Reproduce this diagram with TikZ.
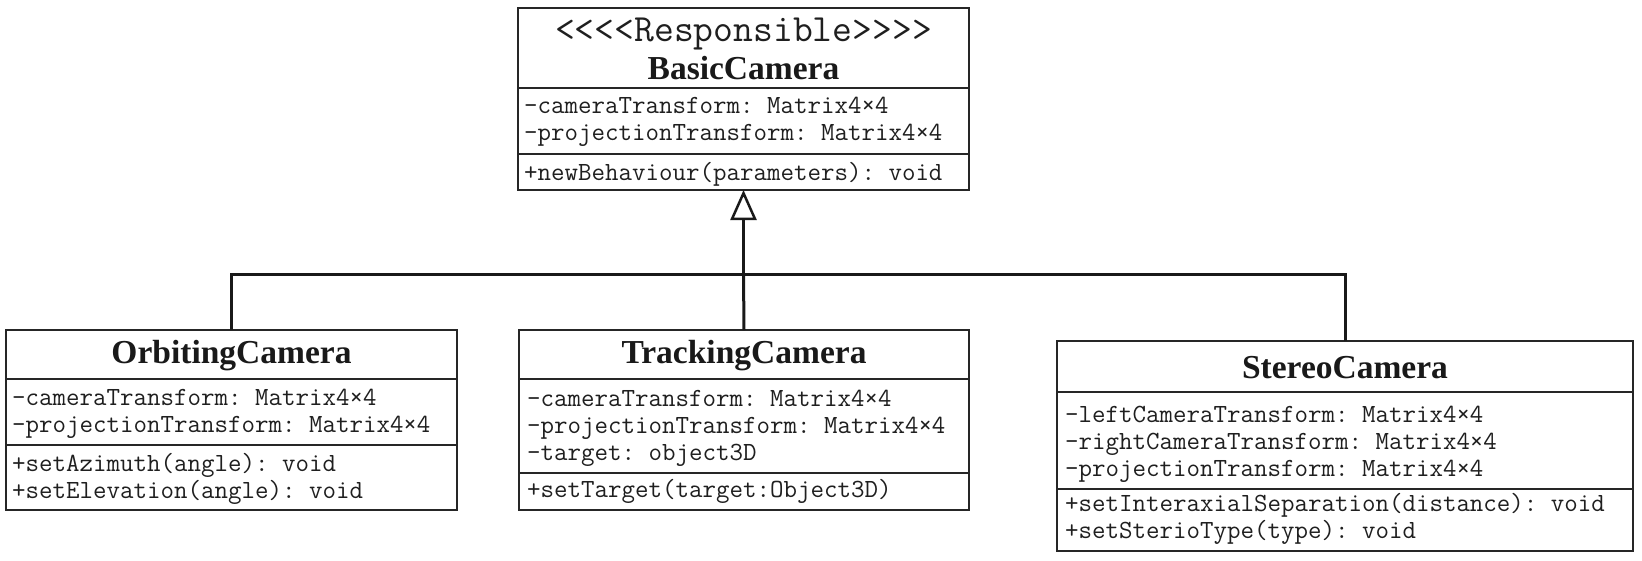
\documentclass[tikz,border=0pt]{standalone}
\usepackage{fontspec}
\setmainfont{Liberation Serif}
\setmonofont{Latin Modern Mono}
\usetikzlibrary{arrows.meta}
\begin{document}
\begin{tikzpicture}[x=1pt,y=-1pt,
  cls/.style={draw=black!85, line width=1.6pt, inner sep=0pt, outer sep=0pt, anchor=north west},
  mono/.style={anchor=base west, inner sep=0pt, font=\fontsize{26.2}{30}\selectfont\ttfamily, text=black!88},
  stereo/.style={anchor=base, inner sep=0pt, font=\fontsize{38.5}{42}\selectfont\ttfamily, text=black!88},
  ctitle/.style={anchor=base, inner sep=0pt, font=\fontsize{33.5}{38}\selectfont\bfseries, text=black!90},
  div/.style={draw=black!85, line width=1.6pt},
  gen/.style={draw=black!90, line width=3pt}]
\useasboundingbox[fill=white] (0,0) rectangle (1642,560);

% BasicCamera
\node[cls, minimum width=451pt, minimum height=182pt] (basic) at (518,8) {};
\node[stereo] (basicst) at (743.5,41) {<<<<Responsible>>>>};
\node[ctitle] (basict) at (743.5,79) {BasicCamera};
\draw[div] (518,88) -- (969,88);
\draw[div] (518,154) -- (969,154);
\node[mono] (b1) at (524,113) {-cameraTransform: Matrix4×4};
\node[mono] (b2) at (524,140) {-projectionTransform: Matrix4×4};
\node[mono] (b3) at (524,180) {+newBehaviour(parameters): void};

% OrbitingCamera
\node[cls, minimum width=451pt, minimum height=180pt] (orb) at (6,330) {};
\node[ctitle] (orbt) at (231.5,363) {OrbitingCamera};
\draw[div] (6,379) -- (457,379);
\draw[div] (6,445) -- (457,445);
\node[mono] (o1) at (12,405) {-cameraTransform: Matrix4×4};
\node[mono] (o2) at (12,432) {-projectionTransform: Matrix4×4};
\node[mono] (o3) at (12,471) {+setAzimuth(angle): void};
\node[mono] (o4) at (12,498) {+setElevation(angle): void};

% TrackingCamera
\node[cls, minimum width=450pt, minimum height=180pt] (trk) at (519,330) {};
\node[ctitle] (trkt) at (744,363) {TrackingCamera};
\draw[div] (519,379) -- (969,379);
\draw[div] (519,473) -- (969,473);
\node[mono] (t1) at (527,406) {-cameraTransform: Matrix4×4};
\node[mono] (t2) at (527,433) {-projectionTransform: Matrix4×4};
\node[mono] (t3) at (527,460) {-target: object3D};
\node[mono] (t4) at (527,497) {+setTarget(target:Object3D)};

% StereoCamera
\node[cls, minimum width=576pt, minimum height=210pt] (ste) at (1057,341) {};
\node[ctitle] (stet) at (1345,378) {StereoCamera};
\draw[div] (1057,392) -- (1633,392);
\draw[div] (1057,489) -- (1633,489);
\node[mono] (s1) at (1065,422) {-leftCameraTransform: Matrix4×4};
\node[mono] (s2) at (1065,449) {-rightCameraTransform: Matrix4×4};
\node[mono] (s3) at (1065,476) {-projectionTransform: Matrix4×4};
\node[mono] (s4) at (1065,511) {+setInteraxialSeparation(distance): void};
\node[mono] (s5) at (1065,538) {+setSterioType(type): void};

% generalization
\coordinate (junc) at (743.5,274);
\draw[gen] (orb.north) |- (junc);
\draw[gen] (ste.north) |- (junc);
\draw[gen] (trk.north) -- (junc);
\draw[gen, -{Triangle[open, length=30pt, width=26pt, line width=2.5pt]}] (junc) -- (basic.south);
\end{tikzpicture}
\end{document}
